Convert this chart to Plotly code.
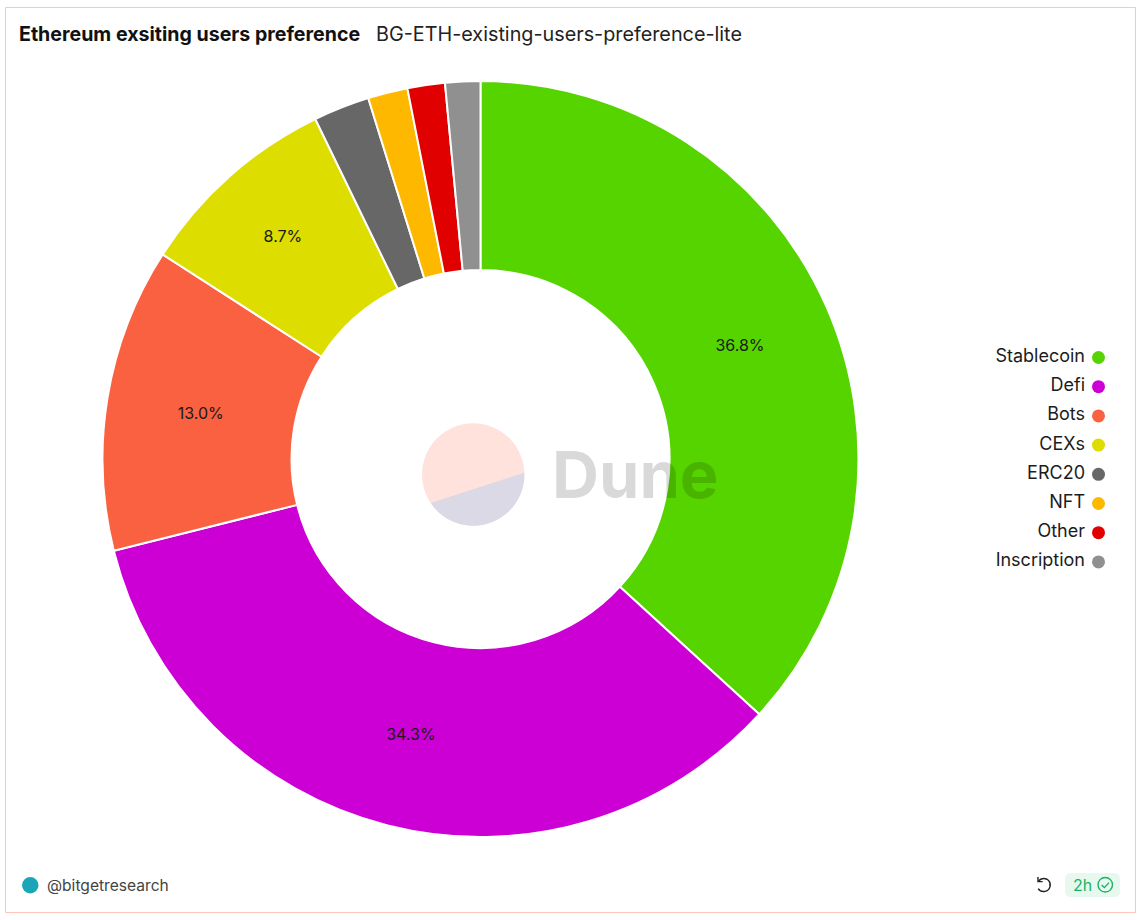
import math
import plotly.graph_objects as go

categories = ["Stablecoin", "Defi", "Bots", "CEXs", "ERC20", "NFT", "Other", "Inscription"]
shares = [36.8, 34.3, 13.0, 8.7, 2.4, 1.7, 1.6, 1.5]
colors = ["#55D400", "#CC00D4", "#F96140", "#DEDD00", "#676767", "#FFB800", "#E10000", "#909090"]
title = "Ethereum exsiting users preference"
subtitle = "BG-ETH-existing-users-preference-lite"
author = "@bitgetresearch"
age = "2h"
watermark = "Dune"

W, H = 1140, 920
FONT = "Inter, Roboto, sans-serif"
TEXT = "#1c1c1c"


def px(a, b):
    return [a / W, b / W]


def py(a, b):
    return [1 - b / H, 1 - a / H]


def logo_segment():
    cx, cy, r = 473.2, 474.5, 51.2
    a0 = math.atan2(472.7 - cy, 524.3 - cx)
    a1 = math.atan2(502.7 - cy, 431.0 - cx)
    if a1 < a0:
        a1 += 2 * math.pi
    pts = []
    for i in range(61):
        a = a0 + (a1 - a0) * i / 60
        pts.append(f"{cx + r * math.cos(a):.2f} {cy + r * math.sin(a):.2f}")
    return "M " + " L ".join(pts) + " Z"


fig = go.Figure()

n = len(categories)
rows = [357.5 + 29.2 * i for i in range(n)]
fig.add_trace(go.Scatter(
    x=[1098.5] * n, y=rows, mode="markers",
    marker=dict(size=13, color=colors),
    hoverinfo="skip", showlegend=False,
))
fig.add_trace(go.Scatter(
    x=[1085] * n, y=rows, mode="text",
    text=categories, textposition="middle left",
    textfont=dict(family=FONT, size=18, color=TEXT),
    hoverinfo="skip", showlegend=False,
))

fig.add_trace(go.Pie(
    labels=categories,
    values=shares,
    hole=0.5,
    sort=False,
    direction="clockwise",
    rotation=0,
    marker=dict(colors=colors, line=dict(color="white", width=2)),
    domain=dict(x=px(102.5, 858.5), y=py(81, 837)),
    texttemplate="%{percent:.1%}",
    textposition=["inside", "inside", "inside", "inside", "none", "none", "none", "none"],
    insidetextorientation="horizontal",
    textfont=dict(family=FONT, size=16, color="#1a1a1a"),
    showlegend=False,
))

shapes = [
    dict(type="rect", xref="x", yref="y", x0=5.5, y0=7.5, x1=1135.5, y1=912.5,
         line=dict(color="#FFC4BC", width=1), fillcolor="white", layer="below"),
    dict(type="circle", xref="x", yref="y", x0=422, y0=423.3, x1=524.4, y1=525.7,
         line=dict(width=0), fillcolor="#FFE2DC", layer="below"),
    dict(type="path", xref="x", yref="y", path=logo_segment(),
         line=dict(width=0), fillcolor="#DBD9E6", layer="below"),
    dict(type="circle", xref="x", yref="y", x0=22, y0=877, x1=38.5, y1=893.5,
         line=dict(width=0), fillcolor="#1AA6B7"),
    dict(type="path", xref="x", yref="y",
         path="M 1071 873 L 1114 873 Q 1120 873 1120 879 L 1120 891 Q 1120 897 1114 897 L 1071 897 Q 1065 897 1065 891 L 1065 879 Q 1065 873 1071 873 Z",
         line=dict(width=0), fillcolor="#E7F8EF", layer="below"),
    dict(type="path", xref="x", yref="y",
         path="M 1038.5 881 C 1041 877.8 1046 877.6 1048.5 880.4 C 1051.8 884 1050.2 890.4 1045 891.4 C 1042 892 1039.6 890.8 1038.2 888.6",
         line=dict(color="#222222", width=1.4)),
    dict(type="path", xref="x", yref="y",
         path="M 1038 877 L 1038 881.6 L 1042.6 881.6",
         line=dict(color="#222222", width=1.4)),
    dict(type="circle", xref="x", yref="y", x0=1098, y0=877.5, x1=1112.5, y1=892,
         line=dict(color="#16B364", width=1.4)),
    dict(type="path", xref="x", yref="y",
         path="M 1101.6 885 L 1104.4 887.6 L 1109 882.6",
         line=dict(color="#16B364", width=1.4)),
]

annotations = [
    dict(x=17, y=34, text=f"<b>{title}</b>", font=dict(family=FONT, size=19.6, color="#111111")),
    dict(x=374, y=34, text=subtitle, font=dict(family=FONT, size=19.8, color="#222222")),
    dict(x=45, y=885, text=author, font=dict(family=FONT, size=15.6, color="#444444")),
    dict(x=1071, y=885, text=age, font=dict(family=FONT, size=16, color="#16B364")),
    dict(x=550, y=474, text=f"<b>{watermark}</b>", font=dict(family=FONT, size=65, color="rgba(0,0,0,0.15)")),
]
for a in annotations:
    a.update(xref="x", yref="y", xanchor="left", yanchor="middle", showarrow=False)

fig.update_layout(
    width=W,
    height=H,
    margin=dict(l=0, r=0, t=0, b=0),
    paper_bgcolor="white",
    plot_bgcolor="rgba(0,0,0,0)",
    xaxis=dict(range=[0, W], visible=False, fixedrange=True),
    yaxis=dict(range=[H, 0], visible=False, fixedrange=True),
    shapes=shapes,
    annotations=annotations,
)

fig.write_html(
    "out.html",
    config=dict(displayModeBar=False),
    post_script="document.body.style.margin='0';document.documentElement.style.overflow='hidden';",
)
